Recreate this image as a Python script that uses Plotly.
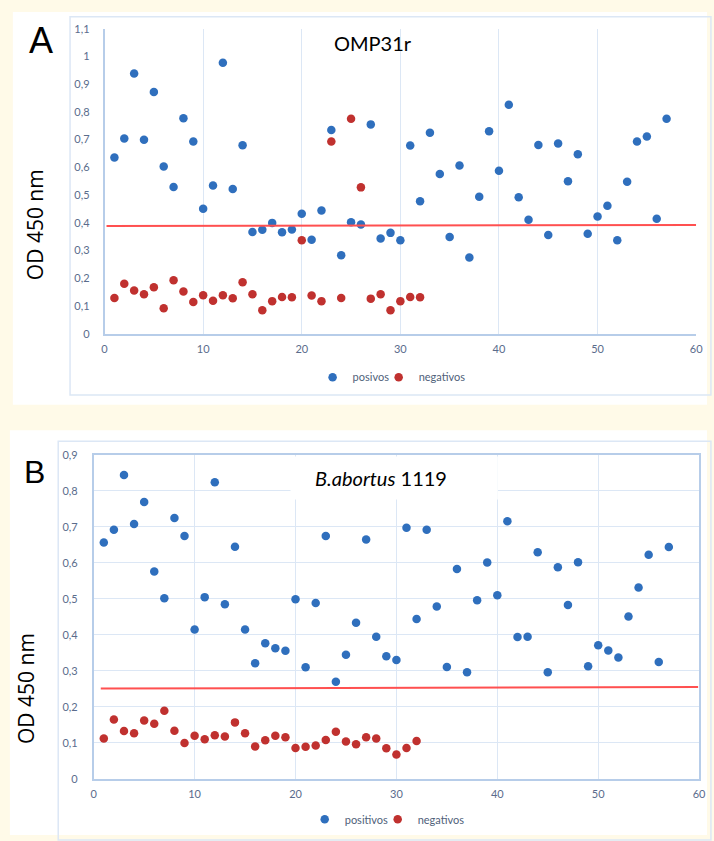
import plotly.graph_objects as go

# ---------------- data ----------------
omp_pos = [0.636, 0.704, 0.938, 0.700, 0.872, 0.603, 0.529, 0.777, 0.693, 0.451,
           0.535, 0.977, 0.522, 0.680, 0.367, 0.375, 0.400, 0.366, 0.376, 0.433,
           0.339, 0.445, 0.735, 0.283, 0.402, 0.394, 0.755, 0.344, 0.364, 0.337,
           0.679, 0.478, 0.725, 0.576, 0.349, 0.607, 0.275, 0.494, 0.730, 0.588,
           0.826, 0.492, 0.411, 0.681, 0.356, 0.686, 0.550, 0.647, 0.361, 0.423,
           0.462, 0.337, 0.548, 0.693, 0.711, 0.415, 0.775]
omp_neg = [0.129, 0.181, 0.156, 0.143, 0.168, 0.092, 0.193, 0.153, 0.115, 0.139,
           0.119, 0.139, 0.128, 0.186, 0.143, 0.085, 0.118, 0.133, 0.132, 0.337,
           0.138, 0.118, 0.693, 0.129, 0.775, 0.528, 0.127, 0.143, 0.085, 0.118,
           0.133, 0.132]
ab_pos = [0.657, 0.692, 0.844, 0.708, 0.769, 0.576, 0.502, 0.725, 0.675, 0.415,
          0.505, 0.824, 0.485, 0.645, 0.415, 0.321, 0.377, 0.363, 0.356, 0.499,
          0.310, 0.489, 0.675, 0.270, 0.345, 0.434, 0.665, 0.395, 0.341, 0.330,
          0.698, 0.444, 0.692, 0.479, 0.311, 0.583, 0.296, 0.496, 0.601, 0.510,
          0.716, 0.394, 0.395, 0.630, 0.296, 0.588, 0.483, 0.602, 0.313, 0.371,
          0.357, 0.337, 0.451, 0.532, 0.623, 0.325, 0.644]
ab_neg = [0.112, 0.165, 0.133, 0.127, 0.162, 0.153, 0.189, 0.134, 0.100, 0.120,
          0.110, 0.121, 0.118, 0.157, 0.127, 0.090, 0.107, 0.120, 0.116, 0.086,
          0.089, 0.093, 0.108, 0.131, 0.104, 0.096, 0.116, 0.112, 0.085, 0.068,
          0.086, 0.105]
cutoff_a_x = [0.2, 60]
cutoff_a_y = [0.389, 0.392]
cutoff_b_x = [0.7, 59.9]
cutoff_b_y = [0.251, 0.255]
x_ticks = [0, 10, 20, 30, 40, 50, 60]
legend_a = ["posivos", "negativos"]
legend_b = ["positivos", "negativos"]

# ---------------- style ----------------
W, H = 714, 841
BLUE = "#2f6fbd"
RED = "#c0312f"
LINE_RED = "#ff5050"
GRID = "#dce7f5"
AXIS = "#b7cde9"
TICK = "#5a6c8c"
FONT = "Lato"
CREAM = "#fffae8"


def px(x):
    return x / W


def py(y):
    return 1 - y / H


fig = go.Figure()


def scatter(xs, ys, name, color, xa, ya, legend, show=True):
    fig.add_trace(go.Scatter(
        x=xs, y=ys, mode="markers", name=name, xaxis=xa, yaxis=ya, legend=legend,
        showlegend=show,
        marker=dict(color=color, size=8.5, line=dict(width=0)),
        cliponaxis=False))


scatter(list(range(1, len(omp_pos) + 1)), omp_pos, legend_a[0], BLUE, "x", "y", "legend")
scatter(list(range(1, len(omp_neg) + 1)), omp_neg, legend_a[1], RED, "x", "y", "legend3")
fig.add_trace(go.Scatter(x=cutoff_a_x, y=cutoff_a_y, mode="lines", xaxis="x", yaxis="y",
                         line=dict(color=LINE_RED, width=2), showlegend=False))

scatter(list(range(1, len(ab_pos) + 1)), ab_pos, legend_b[0], BLUE, "x2", "y2", "legend2")
scatter(list(range(1, len(ab_neg) + 1)), ab_neg, legend_b[1], RED, "x2", "y2", "legend4")
fig.add_trace(go.Scatter(x=cutoff_b_x, y=cutoff_b_y, mode="lines", xaxis="x2", yaxis="y2",
                         line=dict(color=LINE_RED, width=2), showlegend=False))

tickfont = dict(family=FONT, size=11, color=TICK)

xa_common = dict(range=[0, 60], tickvals=x_ticks, showgrid=True, gridcolor=GRID,
                 gridwidth=1, zeroline=False, showline=True, linecolor=AXIS,
                 linewidth=1.5, ticks="", tickfont=tickfont, ticklabelstandoff=4,
                 ticklabeloverflow="allow", fixedrange=True)

legend_common = dict(orientation="h", xanchor="left", yanchor="middle",
                     bgcolor="rgba(0,0,0,0)",
                     font=dict(family=FONT, size=11, color="#4f5f7a"),
                     itemwidth=30, tracegroupgap=0)

fig.update_layout(
    width=W, height=H,
    margin=dict(l=0, r=0, t=0, b=0),
    paper_bgcolor=CREAM,
    plot_bgcolor="white",
    separators=",.",
    font=dict(family=FONT),
    xaxis=dict(domain=[px(103), px(703)], anchor="y", **xa_common),
    yaxis=dict(domain=[py(332), py(22)], anchor="x", range=[0, 1.1], dtick=0.1,
               tick0=0, showgrid=False, zeroline=False, showline=True,
               linecolor=AXIS, linewidth=1.5, ticks="", tickfont=tickfont,
               ticklabelstandoff=11),
    xaxis2=dict(domain=[px(92), px(706)], anchor="y2", mirror=True, **xa_common),
    yaxis2=dict(domain=[py(784), py(455)], anchor="x2", range=[0, 0.9], dtick=0.1,
                tick0=0, showgrid=True, gridcolor=GRID, gridwidth=1.2,
                zeroline=False, showline=True, mirror=True,
                linecolor=AXIS, linewidth=1.5, ticks="", tickfont=tickfont,
                ticklabelstandoff=12),
    legend=dict(x=px(314), y=py(376), **legend_common),
    legend3=dict(x=px(381), y=py(376), **legend_common),
    legend2=dict(x=px(306), y=py(825), **legend_common),
    legend4=dict(x=px(380), y=py(825), **legend_common),
    shapes=[
        # white panels
        dict(type="rect", xref="paper", yref="paper", x0=px(10), x1=1,
             y0=py(404), y1=py(5), fillcolor="white", line=dict(width=0), layer="below"),
        dict(type="rect", xref="paper", yref="paper", x0=px(7), x1=1,
             y0=0, y1=py(430), fillcolor="white", line=dict(width=0), layer="below"),
        # chart frames
        dict(type="rect", xref="paper", yref="paper", x0=px(68), x1=px(718),
             y0=py(394), y1=py(10), line=dict(color="#dce7f5", width=1.5),
             fillcolor="rgba(0,0,0,0)", layer="below"),
        dict(type="rect", xref="paper", yref="paper", x0=px(56), x1=px(718),
             y0=py(846), y1=py(441), line=dict(color="#dce7f5", width=1.5),
             fillcolor="rgba(0,0,0,0)", layer="below"),
        # white title box in B covering the grid
        dict(type="rect", xref="x2", yref="y2", x0=19.5, x1=40.05, y0=0.776, y1=0.896,
             fillcolor="white", line=dict(width=0), layer="between"),
    ],
    annotations=[
        dict(text="A", x=px(39), y=py(34), xref="paper", yref="paper",
             showarrow=False, font=dict(family="Liberation Sans", size=36, color="black"),
             xanchor="center", yanchor="middle"),
        dict(text="B", x=px(32), y=py(472), xref="paper", yref="paper",
             showarrow=False, font=dict(family="Liberation Sans", size=32, color="black"),
             xanchor="center", yanchor="middle"),
        dict(text="OMP31r", x=px(375), y=py(37), xref="paper", yref="paper",
             showarrow=False, font=dict(family=FONT, size=20, color="black"),
             xanchor="center", yanchor="middle"),
        dict(text="<i>B.abortus</i> 1119", x=px(383), y=py(478), xref="paper", yref="paper",
             showarrow=False, font=dict(family=FONT, size=20, color="black"),
             xanchor="center", yanchor="middle"),
        dict(text="OD 450 nm", x=px(32), y=py(221), xref="paper", yref="paper",
             showarrow=False, textangle=-90,
             font=dict(family="Open Sans", size=21, color="black"),
             xanchor="center", yanchor="middle"),
        dict(text="OD 450 nm", x=px(24), y=py(692), xref="paper", yref="paper",
             showarrow=False, textangle=-90,
             font=dict(family="Open Sans", size=21, color="black"),
             xanchor="center", yanchor="middle"),
    ],
)

fig.write_html("out.html", config={"displayModeBar": False},
               post_script="document.body.style.margin='0px';")
